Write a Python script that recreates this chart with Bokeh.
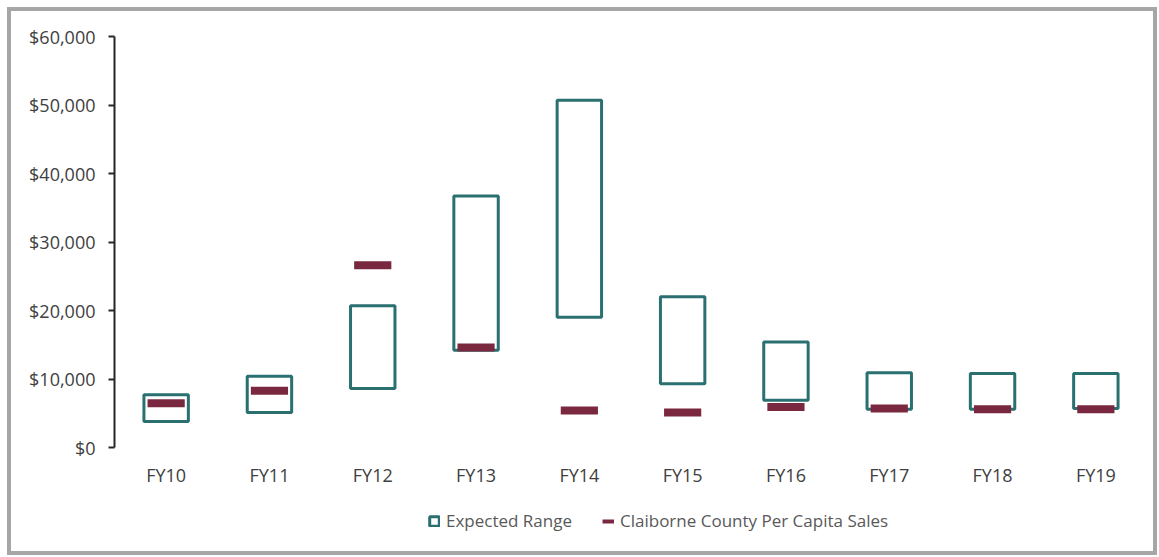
from bokeh.plotting import figure
from bokeh.models import (FixedTicker, NumeralTickFormatter, Legend, LegendItem,
                          ColumnDataSource, Range1d, FactorRange)
from bokeh.embed import file_html
from bokeh.resources import INLINE

categories = ["FY10", "FY11", "FY12", "FY13", "FY14", "FY15", "FY16", "FY17", "FY18", "FY19"]
range_low = [3800, 5100, 8600, 14200, 19000, 9300, 6900, 5600, 5600, 5700]
range_high = [7700, 10400, 20700, 36700, 50700, 22000, 15400, 10900, 10800, 10800]
county_sales = [6450, 8300, 26600, 14600, 5400, 5100, 5900, 5700, 5600, 5600]
y_ticks = [0, 10000, 20000, 30000, 40000, 50000, 60000]
Y_MAX = 60000

TEAL = "#2b7070"
MAROON = "#7a2840"
TEXT = "#404040"

# layout (pixels)
PLOT_PX = 411      # pixel height of 0..60000
BELOW_PX = 106     # extra frame space below zero for labels and legend
y_start = -Y_MAX * BELOW_PX / PLOT_PX

src = ColumnDataSource(dict(cat=categories, low=range_low, high=range_high,
                            county=county_sales, zero=[0] * len(categories)))

p = figure(x_range=FactorRange(*categories), y_range=Range1d(y_start, Y_MAX),
           width=1150, height=548, output_backend="svg", toolbar_location=None,
           min_border_left=103, min_border_right=14, min_border_top=25, min_border_bottom=6)
p.styles = {"border": "4px solid #a6a6a6", "margin-left": "7px", "margin-top": "7px"}
p.outline_line_color = None
p.xgrid.visible = False
p.ygrid.visible = False
p.xaxis.visible = False

box = p.vbar(x="cat", width=0.43, bottom="low", top="high", fill_color="white",
             line_color=TEAL, line_width=3, source=src)
p.rect(x="cat", y="county", width=0.36, height=8, height_units="screen",
       fill_color=MAROON, line_color=None, source=src)
dash = p.line(x=categories[:1], y=county_sales[:1], line_color=MAROON, line_width=4)

# category labels under the zero line
p.text(x="cat", y="zero", text="cat", y_offset=27, text_align="center",
       text_baseline="middle", text_font={"value": "Open Sans"}, text_font_size="18px",
       text_color=TEXT, source=src)

# y axis
p.yaxis.bounds = (0, Y_MAX)
p.yaxis.ticker = FixedTicker(ticks=y_ticks)
p.yaxis.formatter = NumeralTickFormatter(format="$0,0")
p.yaxis.axis_line_color = "#262626"
p.yaxis.axis_line_width = 2
p.yaxis.major_tick_line_color = "#262626"
p.yaxis.major_tick_line_width = 2
p.yaxis.major_tick_out = 6
p.yaxis.major_tick_in = 0
p.yaxis.minor_tick_line_color = None
p.yaxis.major_label_standoff = 13
p.yaxis.major_label_text_font = "Open Sans"
p.yaxis.major_label_text_font_size = "18px"
p.yaxis.major_label_text_color = TEXT

legend = Legend(items=[LegendItem(label="Expected Range", renderers=[box]),
                       LegendItem(label="Claiborne County Per Capita Sales", renderers=[dash])],
                orientation="horizontal", location=(314, 21),
                glyph_width=12, glyph_height=12, label_standoff=6, spacing=30,
                label_text_font="Open Sans", label_text_font_size="17px",
                label_text_color="#595959", border_line_color=None,
                background_fill_alpha=0, margin=0, padding=4)
p.add_layout(legend, "center")

open("out.html", "w").write(file_html(p, INLINE))
